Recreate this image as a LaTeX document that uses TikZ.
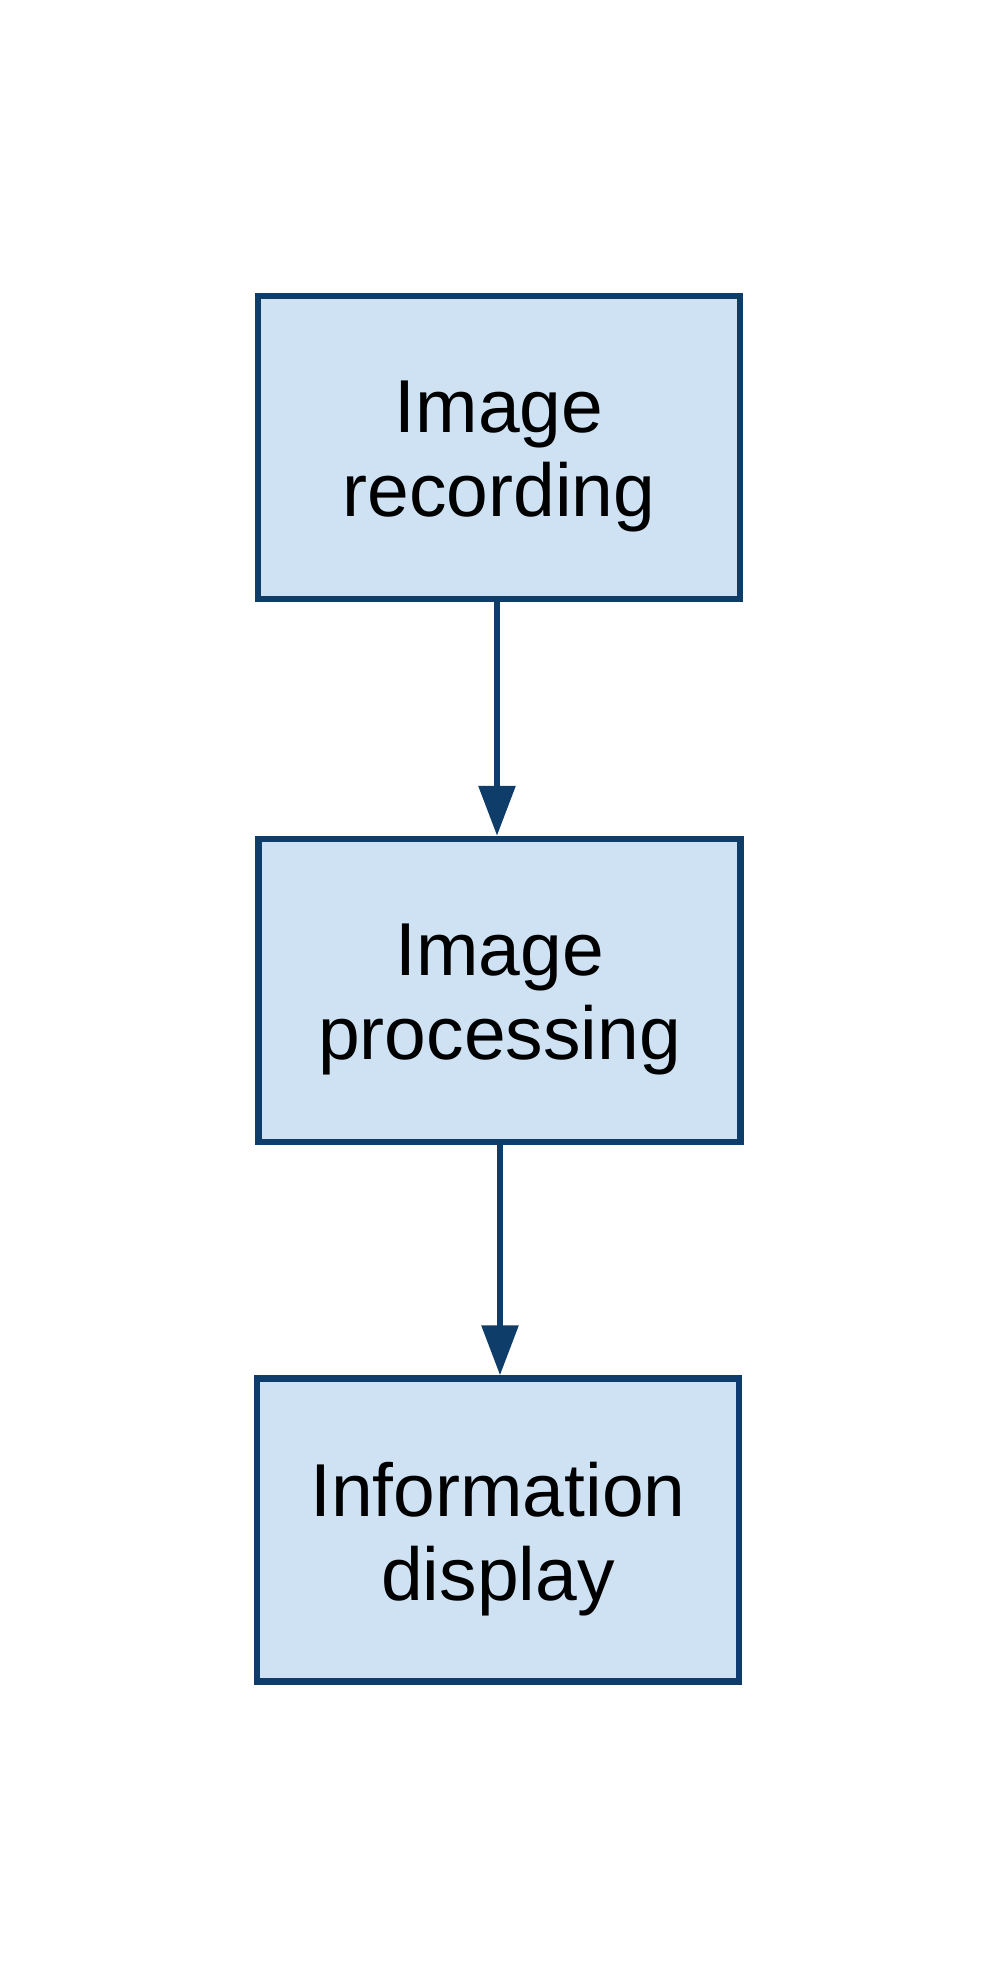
\documentclass[tikz,border=0pt]{standalone}
\usepackage{fontspec}
\setmainfont{Liberation Sans}
\usetikzlibrary{arrows.meta}
\definecolor{boxline}{HTML}{0F3D69}
\definecolor{boxfill}{HTML}{CFE2F3}
\tikzset{
  stepbox/.style={draw=boxline, fill=boxfill, line width=6.5pt, minimum width=482pt, minimum height=303pt, inner sep=0pt},
  steptext/.style={inner sep=0pt, align=center, font=\fontsize{75}{84}\selectfont},
  flow/.style={draw=boxline, line width=6pt, -{Triangle[length=50pt,width=36pt]}}
}
\begin{document}
\begin{tikzpicture}[x=1pt,y=-1pt]
\useasboundingbox (0,0) rectangle (1000,1979);
\node[stepbox] (rec) at (499,447.5) {};
\node[stepbox] (proc) at (499.5,990.5) {};
\node[stepbox] (disp) at (498,1530) {};
\node[steptext] (rect) at ([yshift=-9pt]rec.center) {Image\\recording};
\node[steptext] (proct) at ([yshift=-9pt]proc.center) {Image\\processing};
\node[steptext] (dispt) at ([yshift=-9pt]disp.center) {Information\\display};
\draw[flow] (rec.south -| 497,0) -- (proc.north -| 497,0);
\draw[flow] (proc.south -| 500,0) -- (disp.north -| 500,0);
\end{tikzpicture}
\end{document}
